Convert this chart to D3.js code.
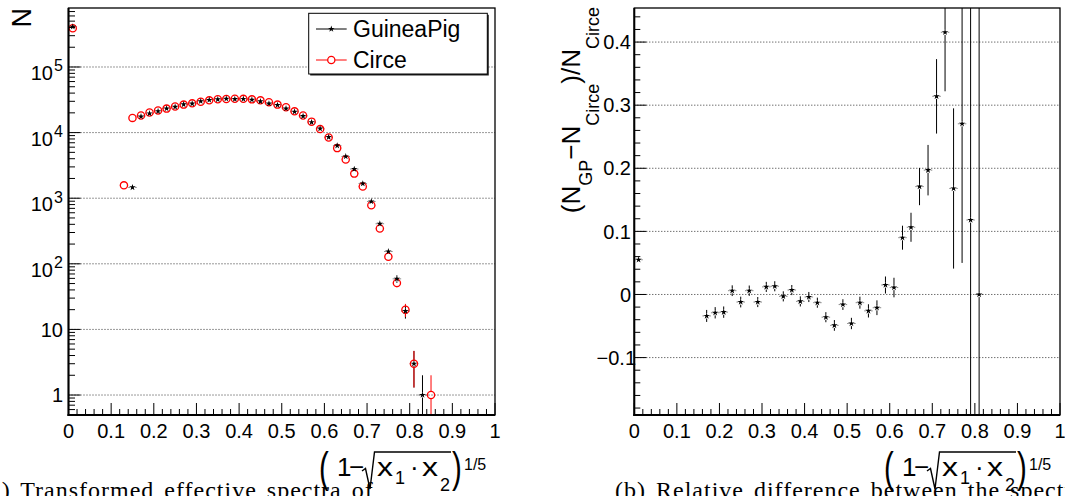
<!DOCTYPE html>
<html><head><meta charset="utf-8">
<script src="https://cdn.jsdelivr.net/npm/d3@7"></script>
<style>body{margin:0;background:#fff} svg{display:block}</style>
</head><body>
<svg id="c" width="1065" height="496"></svg>
<script>
// ---------------- DATA ----------------
// Left panel: bin centres and counts per bin (null = no entry)
const binCenters = [0.01,0.13,0.15,0.17,0.19,0.21,0.23,0.25,0.27,0.29,0.31,0.33,0.35,0.37,0.39,0.41,0.43,0.45,0.47,0.49,0.51,0.53,0.55,0.57,0.59,0.61,0.63,0.65,0.67,0.69,0.71,0.73,0.75,0.77,0.79,0.81,0.83,0.85];
const guineaPigCounts = [411000,null,1460,17600,19600,21200,23300,24700,26900,27600,30000,31400,32100,32800,32400,32600,31700,29900,27700,26300,23300,20800,17800,14400,11500,8520,6320,4320,2780,1670,890,408,154,59,19,3,1,null];
const guineaPigErrors = [641,null,38,133,140,146,153,157,164,166,173,177,179,181,180,181,178,173,166,162,153,144,133,120,107,92,79,66,53,41,30,20,12.4,7.7,4.4,1.7,1.0,null];
const circeCounts = [390000,1570,16750,18200,20200,21800,23200,25000,26700,27900,29600,31000,32200,32600,32800,32700,32100,31000,29100,26700,24400,21100,18200,14700,11300,8430,5800,3900,2370,1510,780,346,128,51,20,3,null,1];
const circeErrors = [624,40,129,135,142,148,152,158,163,167,172,176,179,181,181,181,179,176,171,163,156,145,135,121,106,92,76,62,49,39,28,18.6,11.3,7.1,4.5,1.7,null,1.0];
const binHalfWidth = 0.01;

// Right panel: relative difference (N_GP - N_Circe)/N_Circe
const ratioBins = [0.01,0.17,0.19,0.21,0.23,0.25,0.27,0.29,0.31,0.33,0.35,0.37,0.39,0.41,0.43,0.45,0.47,0.49,0.51,0.53,0.55,0.57,0.59,0.61,0.63,0.65,0.67,0.69,0.71,0.73,0.75,0.77,0.79,0.81];
const ratioValues = [0.055,-0.034,-0.029,-0.028,0.006,-0.012,0.006,-0.012,0.012,0.013,-0.003,0.007,-0.011,-0.004,-0.013,-0.036,-0.049,-0.016,-0.046,-0.013,-0.026,-0.021,0.015,0.011,0.090,0.1065,0.171,0.197,0.314,0.4155,0.168,0.2705,0.118,0.0];
const ratioErrors = [0.003,0.0095,0.009,0.009,0.0085,0.0085,0.0082,0.008,0.008,0.008,0.008,0.008,0.008,0.008,0.008,0.008,0.0085,0.0085,0.009,0.0095,0.0105,0.0117,0.0135,0.0155,0.019,0.023,0.0295,0.040,0.059,0.0935,0.127,0.2205,0.35,0.82];

// Tick labels
const xTickValues = [0,0.1,0.2,0.3,0.4,0.5,0.6,0.7,0.8,0.9,1];
const xTickLabels = ["0","0.1","0.2","0.3","0.4","0.5","0.6","0.7","0.8","0.9","1"];
const yLeftTickValues = [1,10,100,1000,10000,100000];
const yLeftTickBase = ["1","10","10","10","10","10"];
const yLeftTickExp = ["","","2","3","4","5"];
const yRightTickValues = [-0.1,0,0.1,0.2,0.3,0.4];
const yRightTickLabels = ["\u22120.1","0","0.1","0.2","0.3","0.4"];
const legendLabels = ["GuineaPig","Circe"];

// ---------------- DRAW ----------------
const svg = d3.select('#c');
const SANS = "'Liberation Sans', Arial, Helvetica, sans-serif";
const SERIF = "'Liberation Serif', 'Times New Roman', serif";
const RED = "#ff0000";

const L = {x0:68.5, x1:495, y0:8, y1:415};
const R = {x0:634.3, x1:1060, y0:8, y1:415};

const xL = d3.scaleLinear().domain([0,1]).range([L.x0, L.x1]);
const yL = d3.scaleLog().domain([0.496, 7.93e5]).range([L.y1, L.y0]);
const xR = d3.scaleLinear().domain([0,1]).range([R.x0, R.x1]);
const yR = d3.scaleLinear().domain([-0.191, 0.454]).range([R.y1, R.y0]);

const defs = svg.append('defs');
[['clipL',L],['clipR',R]].forEach(([id,P]) => {
  defs.append('clipPath').attr('id',id).append('rect')
    .attr('x',P.x0).attr('y',P.y0).attr('width',P.x1-P.x0).attr('height',P.y1-P.y0);
});

function grid(g, P, ys) {
  ys.forEach(y => g.append('line').attr('x1',P.x0).attr('x2',P.x1).attr('y1',y).attr('y2',y)
    .attr('stroke','#333').attr('stroke-width',1).attr('stroke-dasharray','1,2'));
}

function vseg(g, x, ya, yb, color, w, op) {
  if (Math.abs(yb-ya) < 0.3) return;
  g.append('line').attr('x1',x).attr('x2',x).attr('y1',ya).attr('y2',yb)
    .attr('stroke',color).attr('stroke-width',w).attr('opacity',op);
}
function hseg(g, y, xa, xb, color, w, op) {
  if (xb - xa < 0.3) return;
  g.append('line').attr('x1',xa).attr('x2',xb).attr('y1',y).attr('y2',y)
    .attr('stroke',color).attr('stroke-width',w).attr('opacity',op);
}
function errBars(g, xs, ys, yTopPx, yBotPx, xLeftPx, xRightPx, gap, color) {
  if (yTopPx < ys - gap) vseg(g, xs, yTopPx, ys - gap, color, 1, 1);
  if (yBotPx > ys + gap) vseg(g, xs, ys + gap, yBotPx, color, 1, 1);
  if (xLeftPx < xs - gap) hseg(g, ys, xLeftPx, xs - gap, color, 1, 0.45);
  if (xRightPx > xs + gap) hseg(g, ys, xs + gap, xRightPx, color, 1, 0.45);
}

const star = d3.symbol().type(d3.symbolStar).size(13);

function frame(P) {
  svg.append('rect').attr('x',P.x0).attr('y',P.y0).attr('width',P.x1-P.x0).attr('height',P.y1-P.y0)
    .attr('fill','none').attr('stroke','#000').attr('stroke-width',1.3);
  svg.append('line').attr('x1',P.x0).attr('x2',P.x0).attr('y1',P.y0).attr('y2',P.y1+1).attr('stroke','#000').attr('stroke-width',2);
  svg.append('line').attr('x1',P.x0-1).attr('x2',P.x1).attr('y1',P.y1).attr('y2',P.y1).attr('stroke','#000').attr('stroke-width',2);
}

function xTicks(P, xs) {
  const g = svg.append('g');
  d3.range(0, 51).forEach(k => {
    const v = k * 0.02;
    const major = (k % 5 === 0);
    const x = xs(v);
    g.append('line').attr('x1',x).attr('x2',x).attr('y1',P.y1).attr('y2',P.y1 - (major?12:6))
      .attr('stroke','#000').attr('stroke-width',1);
  });
  xTickValues.forEach((v,i) => {
    g.append('text').attr('x', xs(v)).attr('y', 438).attr('text-anchor','middle')
      .attr('font-family',SANS).attr('font-size',20).attr('fill','#000').text(xTickLabels[i]);
  });
}

function xTitle(ox) {
  const g = svg.append('g').attr('transform',`translate(${ox},0)`).attr('font-family',SANS).attr('fill','#000');
  g.append('text').attr('transform','translate(319,482) scale(0.7,1)').attr('font-size',42).text('(');
  g.append('text').attr('x',337).attr('y',476).attr('font-size',26).text('1');
  g.append('text').attr('x',349).attr('y',476).attr('font-size',26).text('\u2212');
  g.append('path').attr('d','M362,471 L365.5,468.5 L370,489 L374.5,452 L451,452')
    .attr('fill','none').attr('stroke','#000').attr('stroke-width',1.4);
  g.append('text').attr('x',377).attr('y',476).attr('font-size',26)
    .attr('textLength',16).attr('lengthAdjust','spacingAndGlyphs').text('x');
  g.append('text').attr('x',395).attr('y',484).attr('font-size',18).text('1');
  g.append('text').attr('x',410).attr('y',476).attr('font-size',26).text('\u00b7');
  g.append('text').attr('x',422).attr('y',476).attr('font-size',26)
    .attr('textLength',16).attr('lengthAdjust','spacingAndGlyphs').text('x');
  g.append('text').attr('x',440).attr('y',491).attr('font-size',18).text('2');
  g.append('text').attr('transform','translate(452,482) scale(0.7,1)').attr('font-size',42).text(')');
  g.append('text').attr('x',464).attr('y',470).attr('font-size',16).text('1/5');
}

// ===== LEFT PANEL =====
const gL = svg.append('g');
grid(gL, L, yLeftTickValues.map(v => yL(v)));
const gLd = svg.append('g').attr('clip-path','url(#clipL)');

binCenters.forEach((c,i) => {
  const v = guineaPigCounts[i]; if (v == null) return;
  const e = guineaPigErrors[i];
  const lo = v - e;
  errBars(gLd, xL(c), yL(v), yL(v+e), lo > 0 ? yL(lo) : L.y1 + 2, xL(c - binHalfWidth), xL(c + binHalfWidth), 2.5, '#000');
});
binCenters.forEach((c,i) => {
  const v = circeCounts[i]; if (v == null) return;
  const e = circeErrors[i];
  const lo = v - e;
  errBars(gLd, xL(c), yL(v), yL(v+e), lo > 0 ? yL(lo) : L.y1 + 2, xL(c - binHalfWidth), xL(c + binHalfWidth), 3.8, RED);
});
binCenters.forEach((c,i) => {
  const v = circeCounts[i]; if (v == null) return;
  gLd.append('circle').attr('cx',xL(c)).attr('cy',yL(v)).attr('r',3.6)
    .attr('fill','none').attr('stroke',RED).attr('stroke-width',1.3);
});
binCenters.forEach((c,i) => {
  const v = guineaPigCounts[i]; if (v == null) return;
  gLd.append('path').attr('d',star()).attr('transform',`translate(${xL(c)},${yL(v)})`).attr('fill','#000');
});

frame(L);
xTicks(L, xL);
(function(){
  const g = svg.append('g');
  yL.ticks().forEach(v => {
    const y = yL(v);
    if (y < L.y0 - 0.5 || y > L.y1 + 0.5) return;
    const lg = Math.log10(v);
    const major = Math.abs(lg - Math.round(lg)) < 1e-9;
    g.append('line').attr('x1',L.x0).attr('x2',L.x0 + (major?12:6.5)).attr('y1',y).attr('y2',y)
      .attr('stroke','#000').attr('stroke-width',1);
  });
  yLeftTickValues.forEach((v,i) => {
    const y = yL(v);
    if (yLeftTickExp[i]) {
      g.append('text').attr('x',53).attr('y',y+13).attr('text-anchor','end')
        .attr('font-family',SANS).attr('font-size',20).text(yLeftTickBase[i]);
      g.append('text').attr('x',63).attr('y',y+4.5).attr('text-anchor','end')
        .attr('font-family',SANS).attr('font-size',16).text(yLeftTickExp[i]);
    } else {
      g.append('text').attr('x',63).attr('y',y+7.2).attr('text-anchor','end')
        .attr('font-family',SANS).attr('font-size',20).text(yLeftTickBase[i]);
    }
  });
})();
svg.append('text').attr('transform','translate(31,8) rotate(-90)').attr('text-anchor','end')
  .attr('font-family',SANS).attr('font-size',27).text('N');
xTitle(0);

// legend
(function(){
  const g = svg.append('g');
  const bx = 308.7, by = 13.3, bw = 178.6, bh = 60.7;
  g.append('rect').attr('x',bx+1.5).attr('y',by+1.5).attr('width',bw).attr('height',bh).attr('fill','#222');
  g.append('rect').attr('x',bx).attr('y',by).attr('width',bw).attr('height',bh)
    .attr('fill','#fff').attr('stroke','#000').attr('stroke-width',1);
  const rows = [29, 60];
  g.append('line').attr('x1',316).attr('x2',346.7).attr('y1',rows[0]).attr('y2',rows[0]).attr('stroke','#000').attr('stroke-width',1);
  g.append('path').attr('d',star()).attr('transform',`translate(331.3,${rows[0]})`).attr('fill','#000');
  g.append('line').attr('x1',316).attr('x2',327.5).attr('y1',rows[1]).attr('y2',rows[1]).attr('stroke',RED).attr('stroke-width',1);
  g.append('line').attr('x1',335.1).attr('x2',346.7).attr('y1',rows[1]).attr('y2',rows[1]).attr('stroke',RED).attr('stroke-width',1);
  g.append('circle').attr('cx',331.3).attr('cy',rows[1]).attr('r',3.6).attr('fill','none').attr('stroke',RED).attr('stroke-width',1.3);
  legendLabels.forEach((t,i) => g.append('text').attr('x',353).attr('y',rows[i]+8.3)
    .attr('font-family',SANS).attr('font-size',23).text(t));
})();

// ===== RIGHT PANEL =====
const gR = svg.append('g');
grid(gR, R, yRightTickValues.map(v => yR(v)));
const gRd = svg.append('g').attr('clip-path','url(#clipR)');
ratioBins.forEach((c,i) => {
  const v = ratioValues[i], e = ratioErrors[i];
  errBars(gRd, xR(c), yR(v), yR(v+e), yR(v-e), xR(c-binHalfWidth), xR(c+binHalfWidth), 2.6, '#000');
});
ratioBins.forEach((c,i) => {
  gRd.append('path').attr('d',star()).attr('transform',`translate(${xR(c)},${yR(ratioValues[i])})`).attr('fill','#000');
});
frame(R);
xTicks(R, xR);
(function(){
  const g = svg.append('g');
  d3.range(-9, 23).forEach(k => {
    const v = k * 0.02;
    const y = yR(v);
    if (y < R.y0 || y > R.y1) return;
    const major = (k % 5 === 0);
    g.append('line').attr('x1',R.x0).attr('x2',R.x0 + (major?12:6)).attr('y1',y).attr('y2',y)
      .attr('stroke','#000').attr('stroke-width',1);
  });
  yRightTickValues.forEach((v,i) => {
    g.append('text').attr('x', v < 0 ? 636 : 631).attr('y', yR(v)+7.2).attr('text-anchor','end')
      .attr('font-family',SANS).attr('font-size',20).text(yRightTickLabels[i]);
  });
})();
(function(){
  const t = svg.append('text').attr('transform','translate(580,7) rotate(-90)').attr('text-anchor','end')
    .attr('font-family',SANS).attr('font-size',26).attr('fill','#000');
  t.append('tspan').text('(N');
  t.append('tspan').attr('font-size',18).attr('dy',12).text('GP');
  t.append('tspan').attr('dy',-12).text('\u2212N');
  t.append('tspan').attr('font-size',18).attr('dy',19).text('Circe');
  t.append('tspan').attr('dy',-19).text(')/N');
  t.append('tspan').attr('font-size',18).attr('dy',19).text('Circe');
})();
xTitle(565);

// captions (cut by the bottom edge, as in the reference)
svg.append('text').attr('x',-19).attr('y',498).attr('font-family',SERIF).attr('font-size',24)
  .attr('letter-spacing',1).attr('word-spacing',3).text('(a) Transformed effective spectra of');
svg.append('text').attr('x',615).attr('y',498).attr('font-family',SERIF).attr('font-size',24)
  .attr('letter-spacing',1).attr('word-spacing',3).text('(b) Relative difference between the spectra');
</script>
</body></html>
